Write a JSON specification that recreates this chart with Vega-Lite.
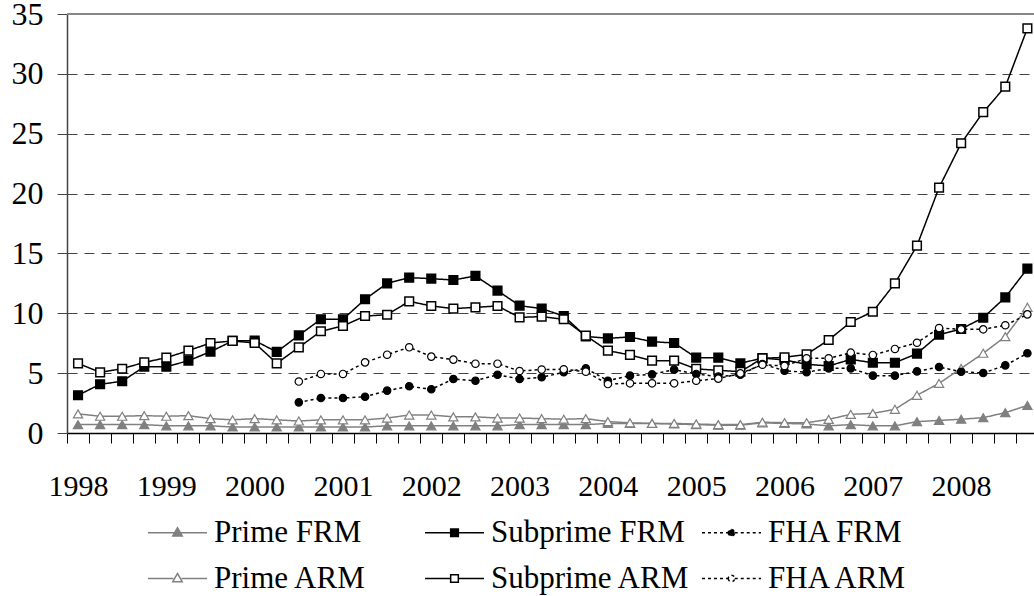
{
  "$schema": "https://vega.github.io/schema/vega-lite/v6.json",
  "autosize": "none",
  "width": 967,
  "height": 419,
  "padding": {"left": 67, "top": 14, "right": 0, "bottom": 163},
  "background": "white",
  "config": {
    "font": "Liberation Serif",
    "view": {"stroke": null},
    "axis": {"labelFont": "Liberation Serif", "labelColor": "#000", "title": null},
    "legend": {"labelFont": "Liberation Serif", "labelColor": "#000"}
  },
  "data": {
    "values": [
      {"q":0,"s":"Prime FRM","v":0.7},{"q":1,"s":"Prime FRM","v":0.7},{"q":2,"s":"Prime FRM","v":0.7},{"q":3,"s":"Prime FRM","v":0.7},{"q":4,"s":"Prime FRM","v":0.6},{"q":5,"s":"Prime FRM","v":0.6},{"q":6,"s":"Prime FRM","v":0.6},{"q":7,"s":"Prime FRM","v":0.5},{"q":8,"s":"Prime FRM","v":0.5},{"q":9,"s":"Prime FRM","v":0.5},{"q":10,"s":"Prime FRM","v":0.5},{"q":11,"s":"Prime FRM","v":0.5},{"q":12,"s":"Prime FRM","v":0.5},{"q":13,"s":"Prime FRM","v":0.5},{"q":14,"s":"Prime FRM","v":0.6},{"q":15,"s":"Prime FRM","v":0.6},{"q":16,"s":"Prime FRM","v":0.6},{"q":17,"s":"Prime FRM","v":0.6},{"q":18,"s":"Prime FRM","v":0.6},{"q":19,"s":"Prime FRM","v":0.6},{"q":20,"s":"Prime FRM","v":0.7},{"q":21,"s":"Prime FRM","v":0.7},{"q":22,"s":"Prime FRM","v":0.7},{"q":23,"s":"Prime FRM","v":0.7},{"q":24,"s":"Prime FRM","v":0.8},{"q":25,"s":"Prime FRM","v":0.8},{"q":26,"s":"Prime FRM","v":0.8},{"q":27,"s":"Prime FRM","v":0.75},{"q":28,"s":"Prime FRM","v":0.7},{"q":29,"s":"Prime FRM","v":0.65},{"q":30,"s":"Prime FRM","v":0.65},{"q":31,"s":"Prime FRM","v":0.85},{"q":32,"s":"Prime FRM","v":0.8},{"q":33,"s":"Prime FRM","v":0.75},{"q":34,"s":"Prime FRM","v":0.6},{"q":35,"s":"Prime FRM","v":0.7},{"q":36,"s":"Prime FRM","v":0.6},{"q":37,"s":"Prime FRM","v":0.6},{"q":38,"s":"Prime FRM","v":0.95},{"q":39,"s":"Prime FRM","v":1.05},{"q":40,"s":"Prime FRM","v":1.15},{"q":41,"s":"Prime FRM","v":1.28},{"q":42,"s":"Prime FRM","v":1.7},{"q":43,"s":"Prime FRM","v":2.3},
      {"q":0,"s":"Prime ARM","v":1.6},{"q":1,"s":"Prime ARM","v":1.4},{"q":2,"s":"Prime ARM","v":1.4},{"q":3,"s":"Prime ARM","v":1.45},{"q":4,"s":"Prime ARM","v":1.4},{"q":5,"s":"Prime ARM","v":1.45},{"q":6,"s":"Prime ARM","v":1.2},{"q":7,"s":"Prime ARM","v":1.1},{"q":8,"s":"Prime ARM","v":1.2},{"q":9,"s":"Prime ARM","v":1.1},{"q":10,"s":"Prime ARM","v":1.0},{"q":11,"s":"Prime ARM","v":1.1},{"q":12,"s":"Prime ARM","v":1.1},{"q":13,"s":"Prime ARM","v":1.1},{"q":14,"s":"Prime ARM","v":1.25},{"q":15,"s":"Prime ARM","v":1.5},{"q":16,"s":"Prime ARM","v":1.5},{"q":17,"s":"Prime ARM","v":1.35},{"q":18,"s":"Prime ARM","v":1.35},{"q":19,"s":"Prime ARM","v":1.25},{"q":20,"s":"Prime ARM","v":1.25},{"q":21,"s":"Prime ARM","v":1.2},{"q":22,"s":"Prime ARM","v":1.15},{"q":23,"s":"Prime ARM","v":1.2},{"q":24,"s":"Prime ARM","v":0.95},{"q":25,"s":"Prime ARM","v":0.85},{"q":26,"s":"Prime ARM","v":0.8},{"q":27,"s":"Prime ARM","v":0.8},{"q":28,"s":"Prime ARM","v":0.75},{"q":29,"s":"Prime ARM","v":0.7},{"q":30,"s":"Prime ARM","v":0.7},{"q":31,"s":"Prime ARM","v":0.9},{"q":32,"s":"Prime ARM","v":0.86},{"q":33,"s":"Prime ARM","v":0.86},{"q":34,"s":"Prime ARM","v":1.14},{"q":35,"s":"Prime ARM","v":1.56},{"q":36,"s":"Prime ARM","v":1.64},{"q":37,"s":"Prime ARM","v":1.98},{"q":38,"s":"Prime ARM","v":3.15},{"q":39,"s":"Prime ARM","v":4.15},{"q":40,"s":"Prime ARM","v":5.4},{"q":41,"s":"Prime ARM","v":6.66},{"q":42,"s":"Prime ARM","v":8.05},{"q":43,"s":"Prime ARM","v":10.5},
      {"q":0,"s":"Subprime FRM","v":3.15},{"q":1,"s":"Subprime FRM","v":4.07},{"q":2,"s":"Subprime FRM","v":4.32},{"q":3,"s":"Subprime FRM","v":5.54},{"q":4,"s":"Subprime FRM","v":5.54},{"q":5,"s":"Subprime FRM","v":6.04},{"q":6,"s":"Subprime FRM","v":6.79},{"q":7,"s":"Subprime FRM","v":7.69},{"q":8,"s":"Subprime FRM","v":7.72},{"q":9,"s":"Subprime FRM","v":6.77},{"q":10,"s":"Subprime FRM","v":8.16},{"q":11,"s":"Subprime FRM","v":9.5},{"q":12,"s":"Subprime FRM","v":9.5},{"q":13,"s":"Subprime FRM","v":11.17},{"q":14,"s":"Subprime FRM","v":12.5},{"q":15,"s":"Subprime FRM","v":12.98},{"q":16,"s":"Subprime FRM","v":12.89},{"q":17,"s":"Subprime FRM","v":12.78},{"q":18,"s":"Subprime FRM","v":13.12},{"q":19,"s":"Subprime FRM","v":11.89},{"q":20,"s":"Subprime FRM","v":10.64},{"q":21,"s":"Subprime FRM","v":10.39},{"q":22,"s":"Subprime FRM","v":9.77},{"q":23,"s":"Subprime FRM","v":8.07},{"q":24,"s":"Subprime FRM","v":7.91},{"q":25,"s":"Subprime FRM","v":8.02},{"q":26,"s":"Subprime FRM","v":7.63},{"q":27,"s":"Subprime FRM","v":7.52},{"q":28,"s":"Subprime FRM","v":6.29},{"q":29,"s":"Subprime FRM","v":6.29},{"q":30,"s":"Subprime FRM","v":5.82},{"q":31,"s":"Subprime FRM","v":6.26},{"q":32,"s":"Subprime FRM","v":6.1},{"q":33,"s":"Subprime FRM","v":5.74},{"q":34,"s":"Subprime FRM","v":5.6},{"q":35,"s":"Subprime FRM","v":6.15},{"q":36,"s":"Subprime FRM","v":5.87},{"q":37,"s":"Subprime FRM","v":5.87},{"q":38,"s":"Subprime FRM","v":6.63},{"q":39,"s":"Subprime FRM","v":8.21},{"q":40,"s":"Subprime FRM","v":8.69},{"q":41,"s":"Subprime FRM","v":9.63},{"q":42,"s":"Subprime FRM","v":11.33},{"q":43,"s":"Subprime FRM","v":13.73},
      {"q":0,"s":"Subprime ARM","v":5.82},{"q":1,"s":"Subprime ARM","v":5.07},{"q":2,"s":"Subprime ARM","v":5.37},{"q":3,"s":"Subprime ARM","v":5.9},{"q":4,"s":"Subprime ARM","v":6.29},{"q":5,"s":"Subprime ARM","v":6.88},{"q":6,"s":"Subprime ARM","v":7.52},{"q":7,"s":"Subprime ARM","v":7.69},{"q":8,"s":"Subprime ARM","v":7.52},{"q":9,"s":"Subprime ARM","v":5.82},{"q":10,"s":"Subprime ARM","v":7.15},{"q":11,"s":"Subprime ARM","v":8.5},{"q":12,"s":"Subprime ARM","v":8.94},{"q":13,"s":"Subprime ARM","v":9.77},{"q":14,"s":"Subprime ARM","v":9.88},{"q":15,"s":"Subprime ARM","v":11.0},{"q":16,"s":"Subprime ARM","v":10.61},{"q":17,"s":"Subprime ARM","v":10.39},{"q":18,"s":"Subprime ARM","v":10.5},{"q":19,"s":"Subprime ARM","v":10.61},{"q":20,"s":"Subprime ARM","v":9.66},{"q":21,"s":"Subprime ARM","v":9.72},{"q":22,"s":"Subprime ARM","v":9.5},{"q":23,"s":"Subprime ARM","v":8.13},{"q":24,"s":"Subprime ARM","v":6.88},{"q":25,"s":"Subprime ARM","v":6.52},{"q":26,"s":"Subprime ARM","v":6.04},{"q":27,"s":"Subprime ARM","v":6.04},{"q":28,"s":"Subprime ARM","v":5.35},{"q":29,"s":"Subprime ARM","v":5.24},{"q":30,"s":"Subprime ARM","v":5.12},{"q":31,"s":"Subprime ARM","v":6.24},{"q":32,"s":"Subprime ARM","v":6.32},{"q":33,"s":"Subprime ARM","v":6.57},{"q":34,"s":"Subprime ARM","v":7.77},{"q":35,"s":"Subprime ARM","v":9.27},{"q":36,"s":"Subprime ARM","v":10.13},{"q":37,"s":"Subprime ARM","v":12.5},{"q":38,"s":"Subprime ARM","v":15.65},{"q":39,"s":"Subprime ARM","v":20.5},{"q":40,"s":"Subprime ARM","v":24.2},{"q":41,"s":"Subprime ARM","v":26.8},{"q":42,"s":"Subprime ARM","v":28.93},{"q":43,"s":"Subprime ARM","v":33.8},
      {"q":10,"s":"FHA FRM","v":2.56},{"q":11,"s":"FHA FRM","v":2.92},{"q":12,"s":"FHA FRM","v":2.92},{"q":13,"s":"FHA FRM","v":3.03},{"q":14,"s":"FHA FRM","v":3.54},{"q":15,"s":"FHA FRM","v":3.9},{"q":16,"s":"FHA FRM","v":3.65},{"q":17,"s":"FHA FRM","v":4.51},{"q":18,"s":"FHA FRM","v":4.37},{"q":19,"s":"FHA FRM","v":4.87},{"q":20,"s":"FHA FRM","v":4.51},{"q":21,"s":"FHA FRM","v":4.66},{"q":22,"s":"FHA FRM","v":5.07},{"q":23,"s":"FHA FRM","v":5.4},{"q":24,"s":"FHA FRM","v":4.37},{"q":25,"s":"FHA FRM","v":4.79},{"q":26,"s":"FHA FRM","v":4.9},{"q":27,"s":"FHA FRM","v":5.29},{"q":28,"s":"FHA FRM","v":4.93},{"q":29,"s":"FHA FRM","v":4.71},{"q":30,"s":"FHA FRM","v":4.87},{"q":31,"s":"FHA FRM","v":5.76},{"q":32,"s":"FHA FRM","v":5.2},{"q":33,"s":"FHA FRM","v":5.07},{"q":34,"s":"FHA FRM","v":5.4},{"q":35,"s":"FHA FRM","v":5.4},{"q":36,"s":"FHA FRM","v":4.79},{"q":37,"s":"FHA FRM","v":4.79},{"q":38,"s":"FHA FRM","v":5.15},{"q":39,"s":"FHA FRM","v":5.51},{"q":40,"s":"FHA FRM","v":5.12},{"q":41,"s":"FHA FRM","v":5.01},{"q":42,"s":"FHA FRM","v":5.65},{"q":43,"s":"FHA FRM","v":6.66},
      {"q":10,"s":"FHA ARM","v":4.3},{"q":11,"s":"FHA ARM","v":4.93},{"q":12,"s":"FHA ARM","v":4.93},{"q":13,"s":"FHA ARM","v":5.9},{"q":14,"s":"FHA ARM","v":6.54},{"q":15,"s":"FHA ARM","v":7.16},{"q":16,"s":"FHA ARM","v":6.38},{"q":17,"s":"FHA ARM","v":6.13},{"q":18,"s":"FHA ARM","v":5.79},{"q":19,"s":"FHA ARM","v":5.79},{"q":20,"s":"FHA ARM","v":5.18},{"q":21,"s":"FHA ARM","v":5.3},{"q":22,"s":"FHA ARM","v":5.32},{"q":23,"s":"FHA ARM","v":5.12},{"q":24,"s":"FHA ARM","v":4.09},{"q":25,"s":"FHA ARM","v":4.15},{"q":26,"s":"FHA ARM","v":4.15},{"q":27,"s":"FHA ARM","v":4.15},{"q":28,"s":"FHA ARM","v":4.37},{"q":29,"s":"FHA ARM","v":4.54},{"q":30,"s":"FHA ARM","v":4.98},{"q":31,"s":"FHA ARM","v":5.7},{"q":32,"s":"FHA ARM","v":5.6},{"q":33,"s":"FHA ARM","v":6.24},{"q":34,"s":"FHA ARM","v":6.24},{"q":35,"s":"FHA ARM","v":6.71},{"q":36,"s":"FHA ARM","v":6.52},{"q":37,"s":"FHA ARM","v":7.02},{"q":38,"s":"FHA ARM","v":7.54},{"q":39,"s":"FHA ARM","v":8.77},{"q":40,"s":"FHA ARM","v":8.66},{"q":41,"s":"FHA ARM","v":8.66},{"q":42,"s":"FHA ARM","v":9.0},{"q":43,"s":"FHA ARM","v":9.91}
    ]
  },
  "encoding": {
    "x": {
      "field": "q", "type": "quantitative",
      "scale": {"domain": [-0.5, 43.3], "nice": false, "zero": false},
      "axis": {
        "values": [-0.5,0.5,1.5,2.5,3.5,4.5,5.5,6.5,7.5,8.5,9.5,10.5,11.5,12.5,13.5,14.5,15.5,16.5,17.5,18.5,19.5,20.5,21.5,22.5,23.5,24.5,25.5,26.5,27.5,28.5,29.5,30.5,31.5,32.5,33.5,34.5,35.5,36.5,37.5,38.5,39.5,40.5,41.5,42.5],
        "labelExpr": "(datum.value + 0.5) % 4 == 0 ? '' + (1998 + (datum.value + 0.5) / 4) : ''",
        "labelFont": "Liberation Serif", "labelColor": "#000",
        "labelOffset": 11, "labelFontSize": 30, "labelPadding": 28, "labelAngle": 0,
        "labelFlush": false, "labelOverlap": false, "labelBound": false,
        "tickSize": 10, "tickColor": "#000", "tickWidth": 1,
        "domainColor": "#000", "domainWidth": 1.5, "grid": false
      }
    },
    "y": {
      "field": "v", "type": "quantitative",
      "scale": {"domain": [0, 35], "nice": false},
      "axis": {
        "values": [0,5,10,15,20,25,30,35],
        "labelFont": "Liberation Serif", "labelColor": "#000",
        "grid": true, "gridDash": [10, 7], "gridColor": "#444", "gridWidth": 1,
        "tickSize": 10, "tickColor": "#444", "domainColor": "#444", "domainWidth": 1.5,
        "labelFontSize": 32, "labelPadding": 14
      }
    }
  },
  "layer": [
    {
      "mark": {"type": "rule", "color": "#888", "strokeWidth": 1.5},
      "encoding": {"y": {"datum": 35}, "x": {"value": 0}, "x2": {"value": 967}}
    },
    {
      "mark": {"type": "line", "strokeWidth": 1.5},
      "encoding": {
        "stroke": {"field": "s", "type": "nominal",
          "scale": {"domain": ["Prime FRM","Subprime FRM","FHA FRM","Prime ARM","Subprime ARM","FHA ARM"], "range": ["#808080","#000000","#000000","#808080","#000000","#000000"]}},
        "strokeDash": {"field": "s", "type": "nominal",
          "scale": {"domain": ["Prime FRM","Subprime FRM","FHA FRM","Prime ARM","Subprime ARM","FHA ARM"], "range": [[1,0],[1,0],[3,3],[1,0],[1,0],[3,3]]}}
      }
    },
    {
      "transform": [{"filter": "indexof(datum.s, 'Prime') == 0"}],
      "mark": {"type": "point", "shape": "triangle-up", "size": 85, "opacity": 1, "strokeWidth": 1.2},
      "encoding": {
        "fill": {"field": "s", "type": "nominal",
          "scale": {"domain": ["Prime FRM","Subprime FRM","FHA FRM","Prime ARM","Subprime ARM","FHA ARM"], "range": ["#808080","#000000","#000000","#ffffff","#ffffff","#ffffff"]}},
        "stroke": {"field": "s", "type": "nominal"}
      }
    },
    {
      "transform": [{"filter": "indexof(datum.s, 'Subprime') == 0"}],
      "mark": {"type": "point", "shape": "square", "size": 75, "opacity": 1, "strokeWidth": 1.5},
      "encoding": {
        "fill": {"field": "s", "type": "nominal"},
        "stroke": {"field": "s", "type": "nominal"}
      }
    },
    {
      "transform": [{"filter": "indexof(datum.s, 'FHA') == 0"}],
      "mark": {"type": "point", "shape": "circle", "size": 55, "opacity": 1, "strokeWidth": 1.2},
      "encoding": {
        "fill": {"field": "s", "type": "nominal"},
        "stroke": {"field": "s", "type": "nominal"}
      }
    },
    {
      "transform": [{"filter": "datum.q < 0"}],
      "mark": {"type": "point", "opacity": 1, "strokeWidth": 1.5},
      "encoding": {
        "shape": {"field": "s", "type": "nominal",
          "scale": {"domain": ["Prime FRM","Subprime FRM","FHA FRM","Prime ARM","Subprime ARM","FHA ARM"],
            "range": [
              "M-1,0H1M0,-0.17L0.16,0.11L-0.16,0.11Z",
              "M-1,0H-0.13M0.13,0H1M-0.13,-0.13H0.13V0.13H-0.13Z",
              "M-1,0H-0.11M0.11,0H1M-0.11,0A0.11,0.11,0,1,0,0.11,0A0.11,0.11,0,1,0,-0.11,0Z",
              "M-1,0H-0.14M0.14,0H1M0,-0.17L0.16,0.11L-0.16,0.11Z",
              "M-1,0H-0.13M0.13,0H1M-0.13,-0.13H0.13V0.13H-0.13Z",
              "M-1,0H-0.11M0.11,0H1M-0.11,0A0.11,0.11,0,1,0,0.11,0A0.11,0.11,0,1,0,-0.11,0Z"
            ]},
          "legend": {
            "title": null, "orient": "none", "legendX": 80, "legendY": 488,
            "direction": "horizontal",
            "columns": 3, "gridAlign": "all", "columnPadding": 9, "rowPadding": -13,
            "labelFontSize": 31, "labelOffset": 6, "labelLimit": 0,
            "symbolSize": 3481, "symbolStrokeWidth": 1.5
          }
        },
        "fill": {"field": "s", "type": "nominal"},
        "stroke": {"field": "s", "type": "nominal"},
        "strokeDash": {"field": "s", "type": "nominal"}
      }
    }
  ]
}
